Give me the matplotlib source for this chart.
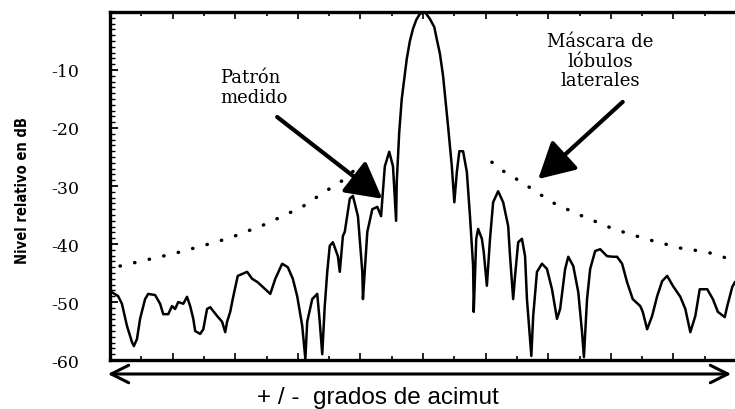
import matplotlib.pyplot as plt
import numpy as np
from matplotlib.ticker import MultipleLocator
from matplotlib.patches import FancyArrowPatch

# patron medido (grados, dB)
pat_az = [-50.0, -48.7, -48.1, -47.3, -46.5, -46.2, -45.7, -45.2, -44.4, -43.9,
          -42.8, -42.0, -41.5, -40.7, -40.1, -39.6, -39.1, -38.3, -37.7, -37.2,
          -36.7, -36.4, -35.6, -35.1, -34.5, -34.0, -32.9, -32.1, -31.6, -31.3,
          -30.8, -30.4, -29.6, -28.1, -27.3, -26.4, -25.2, -24.4, -23.6, -22.5,
          -21.6, -20.8, -20.1, -19.3, -18.8, -18.5, -17.7, -16.9, -16.5, -16.1,
          -15.7, -15.3, -14.9, -14.4, -13.6, -13.3, -12.8, -12.5, -11.7, -11.2,
          -10.4, -9.7, -9.6, -8.9, -8.1, -7.3, -6.7, -6.5, -6.1, -5.4,
          -4.8, -4.5, -4.3, -4.2, -3.8, -3.4, -2.6, -2.1, -1.6, -1.1, -0.5, 0.3,
          1.1, 1.8, 2.2, 2.7, 3.2, 4.0, 4.6, 5.0, 5.4, 5.8, 6.4, 7.0,
          7.5, 8.0, 8.1, 8.5, 8.8, 9.4, 9.7, 10.2, 10.7, 11.2,
          12.0, 12.8, 13.6, 13.9, 14.4, 14.7, 15.2, 15.8, 16.3, 16.6,
          17.3, 17.6, 18.2, 19.0, 19.8, 20.6, 21.4, 21.9, 22.7, 23.2,
          24.0, 24.8, 25.4, 25.7, 26.2, 26.7, 27.5, 28.3, 29.4, 30.4,
          31.0, 31.8, 32.6, 33.5, 34.7, 35.1, 35.8, 36.6, 37.4, 38.2,
          39.0, 39.9, 41.1, 41.9, 42.7, 43.5, 44.2, 45.4, 46.3, 47.1,
          48.2, 48.6, 49.4, 49.8]
pat_db = [-48.1, -49.0, -50.3, -54.1, -56.9, -57.6, -56.4, -52.9, -49.5, -48.6,
          -48.8, -50.3, -52.1, -52.1, -50.7, -51.2, -50.0, -50.3, -49.1, -50.7,
          -52.9, -55.0, -55.5, -54.7, -51.2, -50.9, -52.4, -53.4, -55.2, -53.4,
          -51.7, -49.5, -45.5, -44.8, -46.0, -46.6, -47.8, -48.6, -46.0, -43.4,
          -44.0, -46.0, -49.0, -54.1, -59.8, -53.4, -49.5, -48.6, -53.4, -59.0,
          -50.7, -44.8, -40.3, -39.7, -42.1, -44.8, -38.6, -37.9, -32.2, -31.7,
          -35.2, -44.8, -49.5, -37.9, -34.0, -33.6, -35.2, -32.2, -26.6, -24.1,
          -26.6, -32.2, -36.0, -29.3, -20.7, -15.0, -8.1, -5.0, -2.9, -1.4, -0.3, 0.0,
          -1.2, -2.6, -4.7, -7.2, -11.0, -19.7, -26.6, -32.8, -27.6, -24.0, -24.0, -27.6,
          -35.2, -43.8, -51.7, -39.1, -37.4, -39.1, -41.4, -47.2, -39.1, -32.8,
          -30.9, -32.8, -36.9, -42.1, -49.5, -45.5, -39.7, -39.1, -42.1, -49.5,
          -59.3, -52.4, -44.8, -43.4, -44.3, -47.8, -52.9, -51.2, -44.3, -42.2,
          -43.8, -48.3, -55.2, -59.5, -49.5, -44.3, -41.2, -40.9, -42.1, -42.2,
          -42.2, -43.4, -46.6, -49.5, -50.7, -51.7, -54.7, -52.4, -49.0, -46.4,
          -45.5, -47.2, -49.1, -51.2, -55.2, -52.4, -47.8, -47.8, -49.5, -51.7,
          -52.6, -50.7, -47.4, -46.6]

# mascara de lobulos laterales
mask_left_az = [-48.4, -39.6, -33.2, -30.5, -25.2, -19.3, -15.7, -12.5, -9.6]
mask_left_db = [-43.8, -41.6, -39.7, -38.8, -36.6, -33.6, -31.0, -28.8, -25.9]
mask_right_az = [11.0, 12.3, 14.2, 17.1, 20.6, 24.6, 30.4, 35.5, 41.1, 45.4, 49.0]
mask_right_db = [-25.9, -27.1, -28.3, -30.3, -32.8, -34.8, -37.4, -39.1, -40.7, -41.4, -42.6]

y_ticks = [-60, -50, -40, -30, -20, -10]
y_labels = ['-60', '-50', '-40', '-30', '-20', '-10']

fig = plt.figure(figsize=(7.35, 4.1), dpi=100)
ax = fig.add_axes([0.1497, 0.1195, 0.8517, 0.8488])

ax.plot(pat_az, pat_db, color='black', lw=1.8)
dot = (0, (0.1, 4.2))
ax.plot(mask_left_az, mask_left_db, color='black', lw=2.5, linestyle=dot, dash_capstyle='round')
ax.plot(mask_right_az, mask_right_db, color='black', lw=2.5, linestyle=dot, dash_capstyle='round')

ax.set_xlim(-50, 50)
ax.set_ylim(-60, 0)

ax.spines['right'].set_visible(False)
for s in ['left', 'top', 'bottom']:
    ax.spines[s].set_linewidth(2.4)

ax.set_yticks(y_ticks)
ax.set_yticklabels(y_labels, family='DejaVu Serif', fontsize=12.5)
ax.yaxis.set_minor_locator(MultipleLocator(1))
ax.xaxis.set_major_locator(MultipleLocator(10))
ax.xaxis.set_minor_locator(MultipleLocator(5))
ax.tick_params(axis='y', which='major', direction='in', length=6, width=1.3, pad=22)
ax.tick_params(axis='y', which='minor', direction='in', length=3.5, width=1.0)
ax.tick_params(axis='x', which='both', direction='in', top=True, bottom=True,
               labelbottom=False, width=1.2)
ax.tick_params(axis='x', which='major', length=5)
ax.tick_params(axis='x', which='minor', length=3)

ax.set_ylabel('Nivel relativo en dB', family='DejaVu Sans', fontstretch='condensed',
              fontweight='heavy', fontsize=10.5)
ax.yaxis.set_label_coords(-0.128, 0.49)

serif = 'DejaVu Serif'
ax.text(-32.4, -12.9, 'Patrón\nmedido', family=serif, fontsize=13, ha='left', va='center',
        linespacing=1.1)
head = '-|>,head_length=1.1,head_width=0.6'
ax.annotate('', xy=(-6.5, -32.2), xytext=(-23.3, -18.1),
            arrowprops=dict(arrowstyle=head, lw=3, color='black', mutation_scale=20,
                            shrinkA=0, shrinkB=0))
ax.text(28.3, -8.4, 'Máscara de\nlóbulos\nlaterales', family=serif, fontsize=13,
        ha='center', va='center', linespacing=1.1)
ax.annotate('', xy=(18.4, -28.8), xytext=(31.9, -15.5),
            arrowprops=dict(arrowstyle=head, lw=3, color='black', mutation_scale=20,
                            shrinkA=0, shrinkB=0))

# flecha doble bajo el eje
fig.patches.append(FancyArrowPatch(
    (105 / 735, 1 - 375 / 410), (734 / 735, 1 - 375 / 410), transform=fig.transFigure,
    arrowstyle='<->,head_length=0.9,head_width=0.45', mutation_scale=14, lw=2.2, color='black'))

fig.text(0.514, 1 - 398 / 410, '+ / -  grados de acimut', family='Liberation Sans',
         fontsize=17.5, ha='center', va='center')

fig.savefig('out.png', dpi=100)
